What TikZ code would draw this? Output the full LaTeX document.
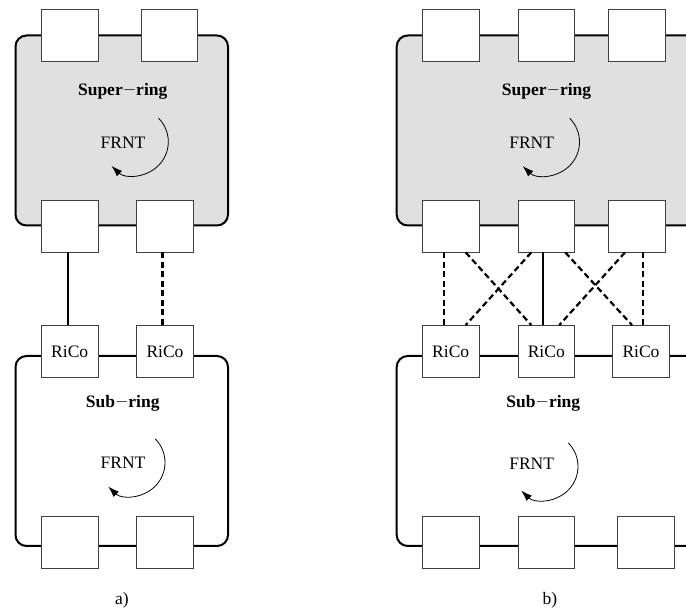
\documentclass[tikz,border=0pt]{standalone}
\usepackage{fontspec}
\setmainfont{Liberation Serif}
\usetikzlibrary{arrows.meta}
\begin{document}
\begin{tikzpicture}[x=1pt,y=-1pt,
  ring/.style={line width=2pt,rounded corners=11pt},
  superfill/.style={fill=black!12},
  nodebox/.style={draw=black!75,line width=0.8pt,fill=white,minimum width=56.5pt,minimum height=52pt,inner sep=0pt,font=\fontsize{17.5}{20}\selectfont},
  title/.style={font=\fontsize{17.5}{20}\selectfont\bfseries},
  lbl/.style={font=\fontsize{17.5}{20}\selectfont},
  link/.style={line width=2pt},
  dlink/.style={line width=2.2pt,dash pattern=on 6pt off 3.5pt},
  turn/.style={line width=0.8pt,-{Latex[length=11pt,width=7.5pt]}}
]
\useasboundingbox (0,0) rectangle (686,609);
\begin{scope}
\clip (0,0) rectangle (686,609);
% ---------------- a) ----------------
\draw[ring,superfill] (15.5,35.5) rectangle (228,225.5);
\draw[ring] (15.5,356) rectangle (228,546);
\node[nodebox] (A1) at (69.7,35.5) {};
\node[nodebox] (A2) at (169.5,35.5) {};
\node[nodebox] (B1) at (69.7,226) {};
\node[nodebox] (B2) at (165,226) {};
\node[nodebox] (C1) at (69.7,351.5) {RiCo};
\node[nodebox] (C2) at (165,351.5) {RiCo};
\node[nodebox] (D1) at (69.7,542) {};
\node[nodebox] (D2) at (165,542) {};
\node[title] (ta) at (122.7,91) {Super\raisebox{0.1ex}{$-$}ring};
\node[title] (tb) at (122.7,403) {Sub\raisebox{0.1ex}{$-$}ring};
\node[lbl] (fa) at (123,143) {FRNT};
\node[lbl] (fb) at (123,463) {FRNT};
\draw[turn] ([shift={(-45:33.5)}]134.8,141.8) arc[start angle=-45,end angle=134,radius=33.5];
\draw[turn] ([shift={(-45:33.5)}]131.5,462.5) arc[start angle=-45,end angle=134,radius=33.5];
\draw[link] ([xshift=-2pt]B1.south) -- ([xshift=-2pt]C1.north);
\draw[dlink] ([xshift=-2.5pt]B2.south) -- ([xshift=-2.5pt]C2.north);
\node[lbl] (la) at (122,600) {a)};
% ---------------- b) ----------------
\draw[ring,superfill] (396.7,35.5) rectangle (698,225.5);
\draw[ring] (396.7,356) rectangle (698,546);
\node[nodebox] (E1) at (450.7,35.5) {};
\node[nodebox] (E2) at (546.3,35.5) {};
\node[nodebox] (E3) at (637,35.5) {};
\node[nodebox] (F1) at (450.7,226) {};
\node[nodebox] (F2) at (546.3,226) {};
\node[nodebox] (F3) at (637,226) {};
\node[nodebox] (G1) at (450.7,351.5) {RiCo};
\node[nodebox] (G2) at (546.3,351.5) {RiCo};
\node[nodebox] (G3) at (641,351.5) {RiCo};
\node[nodebox] (H1) at (450.7,542) {};
\node[nodebox] (H2) at (546.3,542) {};
\node[nodebox] (H3) at (645.7,542) {};
\node[title] (tc) at (546.5,91) {Super\raisebox{0.1ex}{$-$}ring};
\node[title] (td) at (543.3,403) {Sub\raisebox{0.1ex}{$-$}ring};
\node[lbl] (fc) at (531.7,143) {FRNT};
\node[lbl] (fd) at (531.7,463.5) {FRNT};
\draw[turn] ([shift={(-45:33.5)}]546,142) arc[start angle=-45,end angle=134,radius=33.5];
\draw[turn] ([shift={(-45:33.5)}]544.5,466.5) arc[start angle=-45,end angle=134,radius=33.5];
\draw[dlink] ([xshift=-6.4pt]F1.south) -- ([xshift=-6.4pt]G1.north);
\draw[dlink] ([xshift=15pt]F1.south) -- ([xshift=-15pt]G2.north);
\draw[dlink] ([xshift=-15pt]F2.south) -- ([xshift=15pt]G1.north);
\draw[link] ([xshift=-3pt]F2.south) -- ([xshift=-3pt]G2.north);
\draw[dlink] ([xshift=19pt]F2.south) -- ([xshift=-9pt]G3.north);
\draw[dlink] ([xshift=-12pt]F3.south) -- ([xshift=13pt]G2.north);
\draw[dlink] ([xshift=6.3pt]F3.south) -- ([xshift=2.3pt]G3.north);
\node[lbl] (lb) at (550,600) {b)};
\end{scope}
\end{tikzpicture}
\end{document}
